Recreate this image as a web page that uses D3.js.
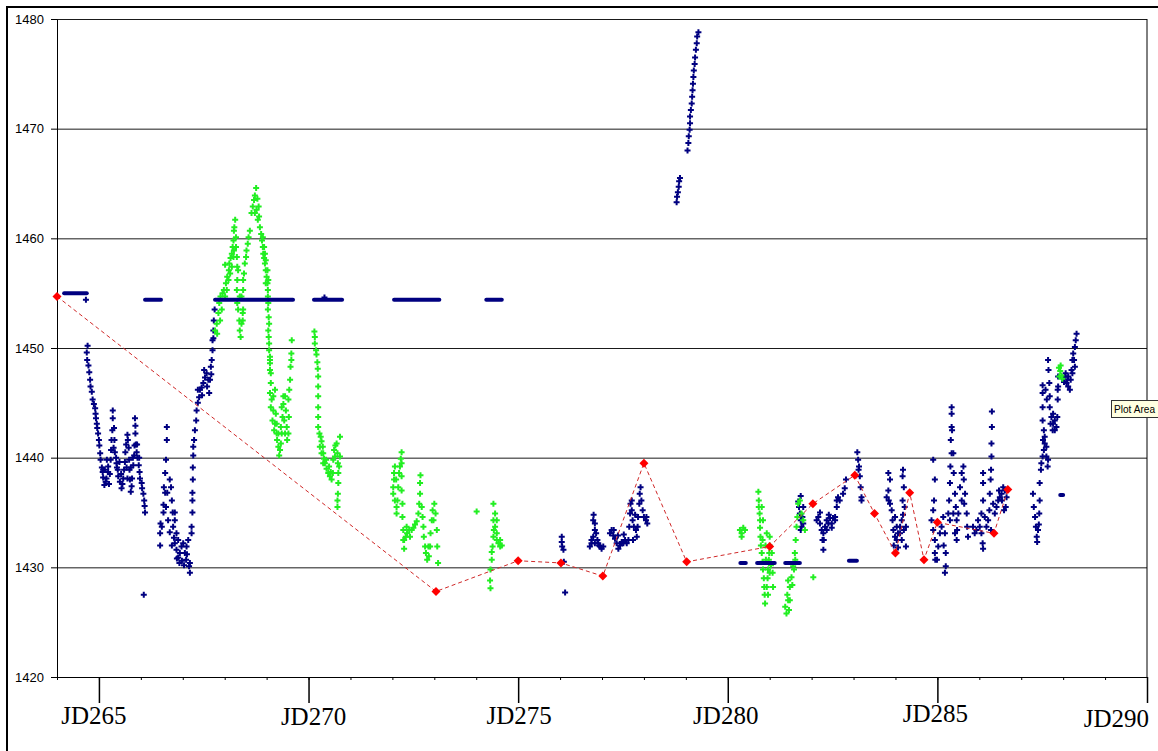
<!DOCTYPE html>
<html><head><meta charset="utf-8">
<script src="https://cdn.jsdelivr.net/npm/d3@7"></script>
<style>body{margin:0;background:#fff}svg{display:block}</style>
</head><body>
<svg id="c" width="1158" height="751"></svg>
<script>
// ---------------- DATA ----------------
const yTicks = [1420,1430,1440,1450,1460,1470,1480];
const minorJD = d3.range(264,291);
const majorJD = [265,270,275,280,285,290];
const xLabels = ["JD265","JD270","JD275","JD280","JD285","JD290"];

// red series (daily values)
const redJD  = [264.0,273.04,275.0,276.02,277.02,278.0,279.02,281.0,282.03,283.03,283.5,284.0,284.34,284.68,285.0,286.35,286.68];
const redVal = [1454.7,1427.8,1430.6,1430.4,1429.2,1439.5,1430.5,1431.9,1435.8,1438.4,1434.9,1431.3,1436.8,1430.7,1434.1,1433.1,1437.1];

// navy constant runs [startJD, endJD, value]
const blueRuns = [[264.17,264.71,1455.0],[266.10,266.48,1454.4],[267.77,269.63,1454.4],[270.13,270.80,1454.4],
  [272.04,273.12,1454.4],[274.24,274.61,1454.4],[280.30,280.43,1430.4],[280.70,281.12,1430.4],[281.37,281.72,1430.4],
  [282.89,283.08,1430.6],[287.93,288.00,1436.6]];

const blueA = [[264.69,1454.4],[270.38,1454.6],
[264.73,1450.2],[264.71,1449.6],[264.72,1448.9],[264.75,1448.4],[264.77,1447.8],[264.79,1447.1],[264.80,1446.5],[264.83,1446.0],[264.85,1445.3],[264.88,1444.9],[264.91,1444.5],[264.92,1444.0],[264.93,1443.6],[264.95,1443.1],[264.96,1442.7],[264.98,1442.2],[265.00,1441.6],[265.01,1441.1],[265.03,1440.4],[265.04,1439.8],[265.07,1439.1],[265.09,1438.7],[265.10,1438.2],[265.13,1437.5],[265.16,1437.8],[265.18,1438.1],[265.22,1438.7],[265.22,1439.2],[265.26,1438.5],[265.28,1439.8],[265.29,1440.7],[265.30,1441.6],[265.32,1442.5],[265.33,1443.6],[265.33,1444.3],[265.36,1442.7],[265.37,1441.6],[265.38,1440.5],[265.41,1440.0],[265.42,1439.5],[265.45,1438.9],[265.46,1438.3],[265.50,1437.8],[265.54,1437.2],[265.56,1437.6],[265.58,1438.1],[265.60,1438.9],[265.62,1439.6],[265.63,1440.5],[265.65,1441.2],[265.68,1442.1],[265.69,1441.6],[265.71,1440.9],[265.72,1439.8],[265.73,1438.9],[265.74,1438.0],[265.76,1436.9],[265.78,1437.4],[265.79,1438.1],[265.82,1439.3],[265.84,1440.2],[265.85,1441.1],[265.87,1442.2],[265.86,1443.6],[265.87,1442.9],[265.88,1441.2],[265.90,1440.5],[265.92,1440.0],[265.95,1439.3],[265.97,1438.7],[265.98,1438.1],[266.02,1437.7],[266.03,1437.2],[266.06,1436.7],[266.08,1436.1],[266.09,1435.6],[266.10,1435.0],[266.07,1427.5],
[265.14,1438.9],[265.19,1439.8],[265.24,1437.6],[265.43,1439.1],[265.49,1439.6],[265.53,1438.5],[265.66,1439.1],[265.68,1438.1],[265.76,1439.1],[265.81,1440.0],[265.91,1441.2],[265.96,1440.0],[265.35,1440.9],[265.10,1438.9]];

const blueB = [[266.62,1442.8],[266.62,1441.6],[266.60,1439.8],[266.58,1438.6],[266.55,1437.3],[266.58,1436.8],[266.54,1435.7],[266.54,1435.0],[266.50,1433.7],[266.47,1434.0],[266.46,1433.1],[266.46,1432.0],[266.60,1435.5],[266.63,1436.8],[266.69,1438.0],[266.72,1437.3],[266.74,1436.1],[266.76,1435.0],[266.77,1433.7],[266.81,1434.3],[266.81,1435.0],[266.85,1433.1],[266.81,1432.2],[266.85,1431.6],[266.89,1430.9],[266.92,1430.4],[266.97,1431.9],[267.01,1432.2],[267.05,1431.3],[267.08,1430.7],[267.09,1431.9],[267.13,1432.5],[267.17,1430.4],[267.17,1429.5],[267.21,1433.1],
[266.65,1434.3],[266.69,1433.2],[266.74,1432.0],[266.79,1432.7],[266.86,1430.8],[266.93,1431.3],[266.98,1430.6],[267.03,1430.2],[267.10,1431.2],[267.15,1430.1],[266.89,1432.5],
[267.21,1433.7],[267.23,1435.0],[267.23,1436.1],[267.23,1436.8],[267.24,1438.0],[267.24,1439.1],[267.25,1440.2],[267.25,1441.0],[267.27,1441.6],[267.29,1442.5],[267.32,1443.4],[267.33,1444.3],[267.36,1445.0],[267.39,1445.5],[267.41,1446.2],[267.45,1446.4],[267.49,1446.8],[267.53,1447.3],[267.57,1447.7],[267.61,1447.1],[267.63,1445.9],[267.65,1447.1],[267.67,1448.3],[267.69,1448.9],[267.71,1449.8],[267.71,1450.7],[267.73,1451.6],[267.74,1452.5],[267.76,1453.5],
[267.36,1446.2],[267.46,1445.7],[267.51,1448.0],[267.58,1446.5],[267.68,1447.6],[267.73,1450.9]];

const blueC = [[276.04,1432.8],[276.04,1432.3],[276.05,1431.9],[276.08,1431.6],[276.09,1430.5],[276.12,1427.7],
[276.71,1431.9],[276.75,1432.5],[276.79,1432.8],[276.79,1434.3],[276.80,1434.8],[276.83,1434.0],[276.83,1433.4],[276.86,1433.1],[276.83,1432.2],[276.89,1432.5],[276.91,1432.2],[276.93,1432.0],[276.95,1431.9],[276.99,1431.7],[277.03,1431.9],[276.75,1432.2],
[277.19,1433.1],[277.23,1433.4],[277.27,1432.9],[277.31,1432.6],[277.35,1432.2],[277.39,1431.7],[277.43,1432.0],[277.47,1432.3],[277.51,1432.2],[277.55,1432.5],[277.59,1432.2],[277.63,1432.5],[277.65,1433.7],[277.67,1434.9],[277.68,1435.8],[277.71,1436.1],[277.73,1434.3],[277.76,1433.7],[277.81,1433.4],[277.83,1432.8],[277.85,1433.7],[277.86,1434.6],[277.89,1435.8],[277.90,1436.7],[277.92,1437.3],[277.94,1436.1],[277.97,1435.2],[278.00,1434.6],[278.05,1434.3],[278.08,1434.0],[278.06,1434.6],
[277.28,1433.4],[277.38,1432.9],[277.52,1433.0],[277.71,1435.2],[277.79,1434.8],[277.74,1432.5],
[278.78,1463.3],[278.79,1463.8],[278.81,1464.2],[278.83,1464.7],[278.84,1465.2],[278.86,1465.5],
[279.04,1468.0],[279.06,1468.7],[279.07,1469.3],[279.09,1469.9],[279.10,1470.5],[279.10,1471.1],[279.12,1471.7],[279.14,1472.3],[279.15,1472.9],[279.16,1473.5],[279.17,1474.1],[279.18,1474.7],[279.19,1475.3],[279.21,1475.9],[279.22,1476.5],[279.24,1477.2],[279.26,1477.8],[279.27,1478.4],[279.30,1478.8]];

const blueD = [[281.68,1436.0],[281.70,1435.5],[281.72,1434.9],[281.74,1434.3],[281.76,1433.7],[281.80,1434.0],[281.78,1434.6],[281.74,1433.4],[281.80,1435.5],[281.74,1436.5],
[282.12,1434.3],[282.16,1434.6],[282.20,1435.0],[282.20,1434.0],[282.24,1433.4],[282.26,1432.5],[282.28,1431.6],[282.28,1433.1],[282.32,1433.7],[282.36,1434.3],[282.40,1434.0],[282.44,1434.5],[282.48,1434.0],[282.51,1434.5],[282.56,1434.3],[282.56,1434.6],[282.60,1435.5],[282.60,1436.1],[282.63,1436.4],[282.67,1436.1],[282.75,1436.7],[282.79,1437.2],[282.82,1438.0],
[282.36,1433.4],[282.48,1433.6],[282.29,1432.5],[282.41,1434.8],
[283.09,1440.5],[283.11,1439.8],[283.13,1439.2],[283.15,1438.3],[283.17,1437.3],[283.19,1436.4],[283.19,1436.1],[283.12,1438.9],
[283.83,1438.6],[283.87,1438.0],[283.83,1437.0],[283.79,1436.4],[283.87,1435.8],[283.91,1435.2],[283.93,1434.3],[283.95,1433.4],[283.99,1432.8],[284.03,1432.5],[284.06,1433.1],[284.11,1433.7],[284.15,1434.3],[284.17,1436.1],[284.17,1438.3],[284.18,1438.9],[284.20,1437.3],[284.22,1435.5],[284.25,1433.7],[284.25,1431.9],[284.15,1432.5],[284.11,1433.1],[284.03,1433.7],[283.99,1434.6],
[283.84,1436.1],[283.96,1432.0],[284.06,1431.8],[284.20,1433.4],[284.18,1434.8],
[284.90,1439.8],[284.94,1438.0],[284.90,1435.2],[284.86,1434.3],[284.90,1433.4],[284.94,1432.5],[284.94,1431.3],[284.95,1430.7],[285.02,1431.9],[285.06,1433.1],[285.10,1433.7],[285.14,1434.6],[285.18,1433.1],[285.20,1431.3],[285.20,1430.1],[285.18,1429.5],
[285.26,1434.9],[285.28,1436.1],[285.30,1437.7],[285.31,1439.2],[285.34,1440.4],[285.32,1441.6],[285.34,1442.8],[285.34,1444.0],[285.34,1444.6],[285.38,1440.4],[285.39,1438.6],[285.42,1436.7],[285.44,1435.5],[285.46,1434.3],[285.46,1432.5],[285.42,1433.1],[285.38,1434.9],
[285.50,1434.9],[285.54,1437.3],[285.58,1438.6],[285.62,1439.2],[285.63,1438.0],[285.66,1436.7],[285.64,1435.8],[285.70,1434.9],[285.71,1433.7],[285.73,1432.8],[285.85,1433.7],[285.89,1433.1],[285.93,1433.4],
[284.92,1436.1],[284.99,1430.7],[285.15,1432.0],[285.30,1434.3],[285.35,1442.5],[285.47,1433.4],[285.58,1436.1],
[285.97,1434.3],[286.01,1433.7],[286.05,1433.1],[286.08,1432.2],[286.09,1431.7],[286.05,1434.9],[286.09,1436.1],[286.09,1437.7],[286.09,1438.6],[286.13,1434.6],[286.17,1433.7],[286.21,1434.3],[286.24,1435.2],[286.25,1436.7],[286.27,1438.0],[286.28,1438.9],[286.29,1440.1],[286.29,1441.3],[286.30,1442.8],[286.30,1444.2],[286.33,1435.8],[286.37,1434.9],[286.41,1435.5],[286.45,1436.1],[286.47,1437.0],[286.49,1436.4],[286.53,1436.7],[286.57,1437.3],[286.61,1437.0],[286.65,1436.4],[286.63,1435.5],[286.59,1435.2],[286.28,1433.4],[286.54,1436.1],
[287.28,1436.7],[287.30,1435.5],[287.33,1434.6],[287.35,1433.7],[287.37,1432.8],[287.38,1432.3],[287.40,1433.4],[287.43,1434.9],[287.44,1436.1],[287.44,1437.7],[287.47,1438.9],[287.48,1439.5],[287.51,1440.1],[287.54,1440.7],[287.56,1441.3],[287.60,1440.1],[287.63,1439.2],[287.64,1439.8],[287.60,1441.0],[287.56,1441.9],[287.54,1442.5],[287.51,1443.4],[287.51,1444.6],[287.51,1445.9],[287.51,1446.6],
[287.64,1448.9],[287.65,1448.0],[287.67,1446.8],[287.68,1445.6],[287.68,1444.6],[287.72,1443.7],[287.76,1443.1],[287.80,1442.5],[287.84,1442.8],[287.86,1443.7],[287.87,1445.3],[287.87,1446.2],[287.88,1446.5],[287.88,1447.4],
[288.04,1447.4],[288.08,1446.8],[288.12,1446.5],[288.16,1446.2],[288.18,1447.1],[288.20,1448.0],[288.22,1448.9],[288.24,1449.5],[288.28,1450.1],[288.30,1450.7],[288.32,1451.3],[288.28,1448.3],[288.22,1447.7],[288.12,1447.4],[288.06,1447.7],
[287.76,1444.0],[287.80,1443.4],[287.70,1443.1],[287.75,1442.5],[287.97,1447.3],[288.02,1446.9],[288.10,1447.1],[288.26,1448.9],[287.52,1441.6],[287.61,1445.3],[287.58,1446.2],[287.42,1433.9]];

const greenA = [[267.77,1451.6],[267.81,1452.2],[267.85,1453.2],[267.87,1454.1],[267.90,1454.7],[267.95,1455.0],[267.98,1455.3],[268.03,1455.9],[268.06,1456.5],[268.10,1457.1],[268.11,1457.7],[268.14,1458.2],[268.17,1458.6],[268.19,1459.2],[268.21,1459.8],[268.22,1460.7],[268.25,1461.7],[268.23,1461.0],
[267.82,1451.3],[267.89,1452.5],[267.93,1453.5],[268.01,1454.7],[268.05,1455.3],[268.09,1456.2],[268.13,1456.8],[268.17,1457.4],[268.21,1458.3],[268.22,1458.9],[268.01,1457.6],
[268.27,1460.1],[268.27,1459.2],[268.29,1458.3],[268.30,1457.4],[268.32,1457.1],[268.30,1456.2],[268.29,1455.3],[268.30,1454.1],[268.32,1453.5],[268.35,1452.5],[268.36,1451.6],[268.38,1451.0],[268.40,1452.2],[268.43,1453.2],[268.36,1454.7],[268.40,1454.7],[268.44,1455.3],[268.44,1456.2],[268.46,1456.8],[268.48,1457.7],[268.51,1458.3],[268.52,1458.9],[268.55,1459.5],[268.57,1460.1],[268.60,1460.7],[268.44,1453.5],[268.43,1452.5],
[268.64,1462.3],[268.67,1462.9],[268.70,1463.5],[268.72,1463.9],[268.75,1464.6],[268.78,1463.6],[268.81,1462.9],[268.82,1462.0],[268.84,1461.0],[268.76,1462.6],[268.72,1462.3],[268.79,1461.7],[268.87,1460.4],[268.89,1459.8],[268.91,1459.2],[268.92,1458.6],[268.94,1458.2],[268.96,1457.7],[268.98,1457.1],[269.00,1456.5],[269.02,1455.9],[269.03,1455.3],[269.03,1454.7],[269.04,1454.1],[269.03,1453.5],[269.05,1452.8],[269.06,1452.2],[269.04,1451.6],[269.05,1451.0],[269.06,1450.4],[269.06,1449.8],[269.08,1449.2],[269.08,1448.6],[269.08,1448.0],
[268.96,1458.6],[268.98,1458.0],[269.02,1457.1],[269.04,1456.2],[268.94,1459.2],[268.91,1460.1],[268.98,1455.9],
[269.08,1448.9],[269.10,1447.7],[269.10,1446.8],[269.08,1445.9],[269.12,1445.3],[269.10,1444.6],[269.16,1445.6],[269.20,1446.2],[269.16,1444.3],[269.14,1443.4],[269.20,1443.1],[269.18,1442.5],[269.24,1442.2],[269.22,1444.0],[269.25,1441.6],[269.28,1441.0],[269.30,1440.2],[269.32,1440.7],[269.34,1441.3],[269.36,1442.2],[269.34,1442.8],[269.38,1443.7],[269.36,1444.6],[269.40,1444.9],[269.44,1445.6],[269.40,1445.6],[269.46,1444.3],[269.48,1442.8],[269.49,1441.6],[269.44,1442.2],[269.42,1443.4],[269.52,1442.2],[269.53,1443.7],[269.52,1445.3],[269.54,1446.2],[269.56,1447.1],[269.57,1448.3],[269.59,1449.5],[269.60,1450.7],[269.59,1448.9],[269.28,1442.2],[269.24,1443.1],
[270.14,1451.5],[270.15,1451.0],[270.15,1450.4],[270.18,1449.8],[270.19,1449.4],[270.21,1448.7],[270.22,1448.1],[270.23,1447.4],[270.23,1446.5],[270.23,1445.6],[270.23,1444.6],[270.23,1443.7],[270.23,1442.8],[270.26,1442.2],[270.29,1441.9],[270.31,1441.5],[270.34,1441.0],[270.35,1440.4],[270.37,1439.9],[270.39,1439.5],[270.43,1439.0],[270.47,1438.6],[270.51,1438.3],[270.55,1438.0],[270.58,1438.6],[270.59,1439.8],[270.61,1440.7],[270.64,1441.1],[270.67,1441.3],[270.69,1440.4],[270.70,1439.5],[270.71,1438.6],[270.71,1437.7],[270.70,1436.7],[270.69,1436.1],[270.69,1435.5],[270.75,1441.9],[270.75,1440.1],[270.73,1439.2],[270.27,1441.0],[270.31,1440.4],[270.35,1439.5],[270.42,1439.8],[270.49,1439.2],[270.53,1438.7],[270.63,1440.1]];

const greenB = [[272.06,1439.2],[272.04,1438.6],[272.04,1438.0],[272.02,1437.3],[272.02,1436.7],[272.06,1436.1],[272.10,1435.5],[272.10,1434.9],[272.12,1436.1],[272.14,1437.3],[272.16,1438.6],[272.18,1439.2],[272.20,1439.9],[272.22,1440.5],[272.22,1439.5],[272.22,1438.3],[272.22,1437.0],[272.24,1435.8],[272.24,1434.6],[272.26,1433.4],[272.28,1432.5],[272.28,1431.7],[272.32,1432.8],[272.35,1433.1],[272.40,1433.4],[272.46,1433.4],[272.50,1433.6],[272.54,1433.9],[272.58,1434.2],[272.62,1434.9],[272.64,1435.8],[272.66,1436.7],[272.66,1437.7],[272.67,1438.4],[272.70,1435.5],[272.72,1434.6],[272.74,1433.7],[272.75,1432.8],[272.78,1431.9],[272.80,1431.3],[272.83,1430.7],[272.87,1431.0],[272.90,1431.9],[272.91,1433.1],[272.94,1434.3],[272.96,1435.2],[273.00,1435.8],[273.03,1434.9],[273.06,1433.4],[273.07,1431.9],[273.09,1430.4],[272.09,1438.0],[272.26,1432.5],[272.34,1433.7],[272.42,1432.8],[272.86,1431.9],[272.98,1434.3],
[274.01,1435.1],[274.41,1435.8],[274.45,1434.9],[274.45,1433.7],[274.41,1432.8],[274.39,1431.9],[274.37,1430.7],[274.34,1429.8],[274.33,1428.8],[274.34,1428.1],[274.49,1433.1],[274.53,1432.2],[274.57,1431.9],[274.61,1432.0],[274.57,1432.5],[274.49,1434.3],[274.41,1434.3],[274.42,1433.4],[274.37,1431.4],[274.49,1432.5]];

const greenC = [[280.29,1433.4],[280.33,1433.1],[280.37,1433.6],[280.33,1432.8],[280.41,1433.4],
[280.73,1436.9],[280.74,1436.1],[280.74,1435.5],[280.76,1434.9],[280.77,1434.3],[280.77,1433.6],[280.78,1432.8],[280.79,1432.0],[280.81,1431.3],[280.83,1430.5],[280.84,1429.8],[280.86,1429.0],[280.87,1428.2],[280.88,1427.5],[280.89,1426.7],[280.93,1428.2],[280.95,1429.0],[280.96,1429.8],[280.98,1430.7],[280.99,1431.3],[281.00,1432.0],[281.00,1432.8],[281.05,1431.3],[281.07,1429.5],[281.08,1428.2],[281.00,1429.5],[280.93,1433.1],[280.84,1434.3],[280.81,1435.5],[280.83,1432.5],[280.91,1430.7],[280.90,1432.0],[281.03,1430.2],[280.96,1427.5],
[281.40,1425.8],[281.37,1426.4],[281.44,1427.0],[281.48,1428.2],[281.52,1429.1],[281.56,1430.1],[281.60,1431.3],[281.62,1432.5],[281.64,1433.7],[281.66,1434.6],[281.68,1435.8],[281.72,1436.1],[281.76,1434.9],[281.80,1434.3],[281.84,1433.4],[281.44,1428.8],[281.48,1427.0],[281.42,1427.5],[281.46,1426.1],[281.54,1428.4],[281.58,1429.8],[281.61,1430.7],
[282.04,1429.1],
[287.90,1448.2],[287.93,1447.9],[287.96,1447.5],[287.98,1447.2],[287.91,1447.4],[287.94,1448.4]];

// ---------------- CHART ----------------
const svg = d3.select('#c');
const P = {l:57, r:1147, t:19, b:677};
const x = d3.scaleLinear().domain([264,290]).range([P.l,P.r]);
const y = d3.scaleLinear().domain([1420,1480]).range([P.b,P.t]);

svg.append('rect').attr('width',1158).attr('height',751).attr('fill','#fff');
svg.append('rect').attr('x',7).attr('y',7).attr('width',1170).attr('height',770)
   .attr('fill','none').attr('stroke','#000').attr('stroke-width',2);

// gridlines
svg.append('g').attr('transform',`translate(${P.l},0)`)
  .call(d3.axisLeft(y).tickValues(yTicks).tickSize(-(P.r-P.l)).tickFormat(''))
  .call(g=>{g.select('.domain').remove(); g.selectAll('line').attr('stroke','#1a1a1a');});

// right border
svg.append('line').attr('x1',P.r).attr('x2',P.r).attr('y1',y(1480)).attr('y2',y(1420)).attr('stroke','#000');

// y axis
svg.append('g').attr('transform',`translate(${P.l},0)`)
  .call(d3.axisLeft(y).tickValues(yTicks).tickSize(6).tickSizeOuter(0).tickPadding(7).tickFormat(d3.format('d')))
  .call(g=>{g.select('.domain').attr('stroke','#000');
    g.selectAll('line').attr('stroke','#000');
    g.selectAll('text').attr('font-family','"Liberation Sans", Arial, sans-serif').attr('font-size',13).attr('fill','#000');});

// x axis minor ticks
svg.append('g').attr('transform',`translate(0,${P.b})`)
  .call(d3.axisBottom(x).tickValues(minorJD).tickSize(3).tickSizeOuter(0).tickFormat(''))
  .call(g=>{g.select('.domain').attr('stroke','#000'); g.selectAll('line').attr('stroke','#000');});
// major ticks
svg.append('g').attr('transform',`translate(0,${P.b})`)
  .call(d3.axisBottom(x).tickValues(majorJD).tickSize(26).tickSizeOuter(0).tickFormat(''))
  .call(g=>{g.select('.domain').remove(); g.selectAll('line').attr('stroke','#000').attr('stroke-width',1.5);});

// x labels
const labelNudge = [-5,5,1,-2,-2,2];
const labelBase = [724,725,724,724,722,727];
svg.append('g').selectAll('text').data(majorJD).join('text')
  .attr('x',(d,i)=>x(d)+labelNudge[i]).attr('y',(d,i)=>labelBase[i])
  .attr('text-anchor',(d,i)=>i===majorJD.length-1?'end':'middle')
  .attr('font-family','"Liberation Serif","Times New Roman",serif').attr('font-size',25).attr('fill','#000')
  .text((d,i)=>xLabels[i]);

// markers
const plus = 'M-3,0H3M0,-3V3';
function plot(data,color){
  svg.append('g').selectAll('path').data(data).join('path')
    .attr('transform',d=>`translate(${x(d[0])},${y(d[1])})`)
    .attr('d',plus).attr('stroke',color).attr('stroke-width',2).attr('fill','none');
}
const navy = '#000080', lime = '#22ee22';
plot(blueA,navy); plot(blueB,navy); plot(blueC,navy); plot(blueD,navy);
plot(greenA,lime); plot(greenB,lime); plot(greenC,lime);

// navy constant runs
svg.append('g').selectAll('line').data(blueRuns).join('line')
  .attr('x1',d=>x(d[0])).attr('x2',d=>x(d[1])).attr('y1',d=>y(d[2])).attr('y2',d=>y(d[2]))
  .attr('stroke',navy).attr('stroke-width',4).attr('stroke-linecap','round');

// red series
const red = redJD.map((d,i)=>[d,redVal[i]]);
svg.append('path').datum(red)
  .attr('d',d3.line().x(d=>x(d[0])).y(d=>y(d[1])))
  .attr('fill','none').attr('stroke','#d02828').attr('stroke-width',1).attr('stroke-dasharray','4,3');
svg.append('g').selectAll('path').data(red).join('path')
  .attr('transform',d=>`translate(${x(d[0])},${y(d[1])})`)
  .attr('d','M0,-4.5L4.5,0L0,4.5L-4.5,0Z').attr('fill','#ff0000');

// tooltip artifact
svg.append('rect').attr('x',1111.5).attr('y',400.5).attr('width',50).attr('height',17)
  .attr('fill','#ffffe1').attr('stroke','#333');
svg.append('text').attr('x',1114).attr('y',413).attr('font-family','"Liberation Sans", Arial, sans-serif')
  .attr('font-size',11).attr('textLength',41).attr('lengthAdjust','spacingAndGlyphs').attr('fill','#000').text('Plot Area');
</script>
</body></html>
